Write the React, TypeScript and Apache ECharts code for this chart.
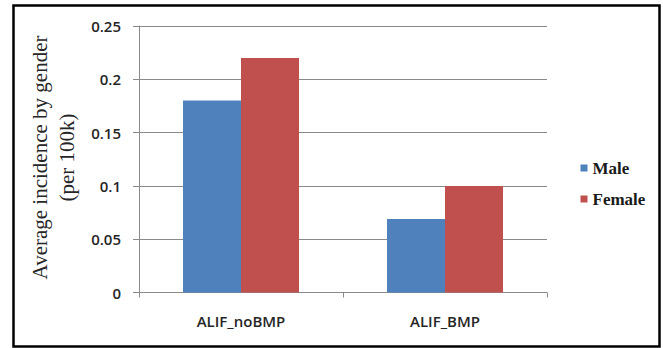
import React, { useEffect, useRef } from "react";
import * as echarts from "echarts";

const categories = ["ALIF_noBMP", "ALIF_BMP"];
const maleValues = [0.18, 0.069];
const femaleValues = [0.22, 0.1];
const seriesNames = ["Male", "Female"];
const yTicks = { min: 0, max: 0.25, interval: 0.05 };

export default function App() {
  const ref = useRef<HTMLDivElement>(null);

  useEffect(() => {
    if (!ref.current) return;
    const chart = echarts.init(ref.current, null, { renderer: "svg" });
    const sansFont = "'Open Sans', Lato, 'Liberation Sans', sans-serif";
    const serifFont = "'Liberation Serif', 'DejaVu Serif', serif";

    chart.setOption({
      animation: false,
      backgroundColor: "#ffffff",
      grid: { left: 139, right: 116, top: 26, bottom: 55.5, containLabel: false },
      legend: {
        orient: "vertical",
        left: 575.5,
        top: 154.5,
        itemWidth: 7,
        itemHeight: 7,
        itemGap: 14,
        icon: "rect",
        data: seriesNames,
        textStyle: {
          fontFamily: serifFont,
          fontSize: 17,
          fontWeight: "bold",
          color: "#1a1a1a",
        },
      },
      xAxis: {
        type: "category",
        data: categories,
        axisLine: { lineStyle: { color: "#8a8a8a", width: 1 } },
        axisTick: { show: true, length: 5, alignWithLabel: false, lineStyle: { color: "#8a8a8a" } },
        axisLabel: { fontFamily: sansFont, fontSize: 15, fontWeight: 600, color: "#262626", margin: 21 },
      },
      yAxis: {
        type: "value",
        min: yTicks.min,
        max: yTicks.max,
        interval: yTicks.interval,
        axisLine: { show: true, lineStyle: { color: "#8a8a8a", width: 1 } },
        axisTick: { show: true, length: 6, lineStyle: { color: "#8a8a8a" } },
        splitLine: { lineStyle: { color: "#8a8a8a", width: 1 } },
        axisLabel: { fontFamily: sansFont, fontSize: 15, fontWeight: 600, color: "#262626", margin: 18 },
      },
      series: [
        {
          name: seriesNames[0],
          type: "bar",
          data: maleValues,
          barWidth: 58,
          barGap: "0%",
          itemStyle: { color: "#4f81bd" },
        },
        {
          name: seriesNames[1],
          type: "bar",
          data: femaleValues,
          barWidth: 58,
          barGap: "0%",
          itemStyle: { color: "#c0504d" },
        },
      ],
      graphic: [
        {
          type: "rect",
          shape: { x: 13.5, y: 5.5, width: 646, height: 341 },
          style: { fill: "none", stroke: "#000000", lineWidth: 2.5 },
          silent: true,
        },
        {
          type: "text",
          x: 40,
          y: 157.5,
          rotation: Math.PI / 2,
          style: {
            text: "Average incidence by gender",
            font: `21px ${serifFont}`,
            fill: "#262626",
            textAlign: "center",
            textVerticalAlign: "middle",
          },
        },
        {
          type: "text",
          x: 67,
          y: 157.5,
          rotation: Math.PI / 2,
          style: {
            text: "(per 100k)",
            font: `21px ${serifFont}`,
            fill: "#262626",
            textAlign: "center",
            textVerticalAlign: "middle",
          },
        },
      ],
    });

    return () => chart.dispose();
  }, []);

  return (
    <div
      ref={ref}
      style={{ position: "fixed", left: 0, top: 0, width: 663, height: 348 }}
    />
  );
}
